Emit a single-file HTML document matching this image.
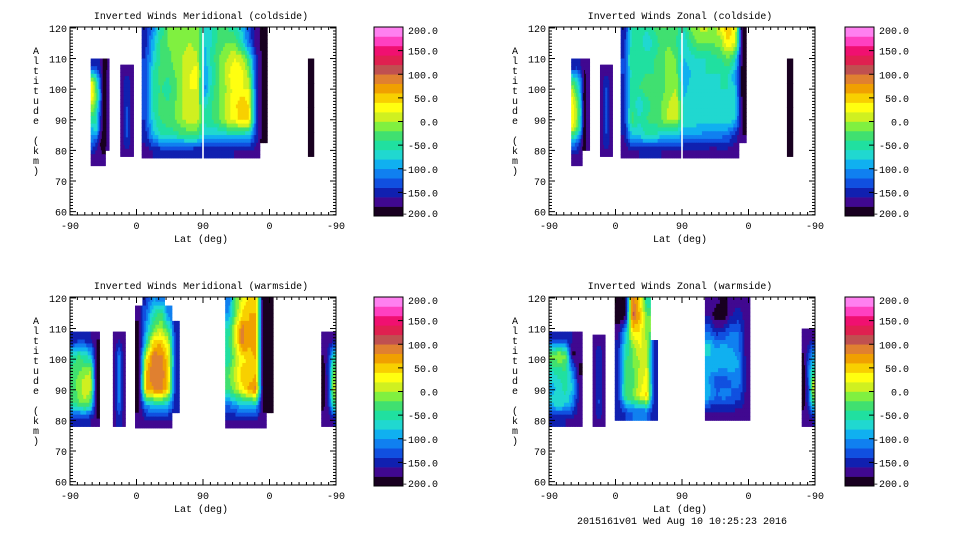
<!DOCTYPE html>
<html><head><meta charset="utf-8"><style>
html,body{margin:0;padding:0;background:#fff;}
svg{display:block;}
text{font-family:"Liberation Mono","DejaVu Sans Mono",monospace;font-size:10px;fill:#000;}
</style></head><body>
<svg id="chart" width="960" height="540" xmlns="http://www.w3.org/2000/svg">
<rect width="960" height="540" fill="#fff"/>
</svg>
<script>
const xTickLabels = ["-90","0","90","0","-90"];
const xTickUnits = [0,90,180,270,360];
const yTickLabels = [60,70,80,90,100,110,120];
const cbarLabels = [200,150,100,50,0,-50,-100,-150,-200];
const panelTitles = ["Inverted Winds Meridional (coldside)","Inverted Winds Zonal (coldside)","Inverted Winds Meridional (warmside)","Inverted Winds Zonal (warmside)"];
const bandColors = ["#180020","#400890","#1020b0","#1050e0","#1080f0","#10b0f0","#20d8d0","#20e0a0","#40e070","#80f040","#d0f020","#ffff10","#f8d000","#f0a000","#e08030","#c05050","#e02050","#f01070","#ff40c0","#ff80f0"];

// panel 1: meridional coldside
const p1Blocks = [
 {x0:28,x1:53,a0:75,a1:110,v:[
  [-160,-150,-160,-190,-180],[20,-40,-120,-200,-170],[30,-20,-100,-200,-170],[-20,-60,-130,-200,-170],[-80,-60,-140,-200,-170],[-120,-140,-180,-200,-170],[-170,-180,-170,-175,null]]},
 {x0:68,x1:86,a0:78,a1:108,v:[[-165,-165,-165],[-165,-140,-165],[-165,-140,-165],[-165,-125,-165],[-165,-130,-165],[-165,-160,-165]]},
 {x0:322,x1:330,a0:78,a1:110,v:[[-195]]},
 {x0:97,x1:267,a0:77.5,a1:122.5,v:[
  [-160,-110,-60,-20,-20,-10,-10,-10,-70,-60,-30,-40,-50,-80,-130,-170,-190],
  [-150,-90,-40,-20,-10,-10,0,-10,-80,-60,-30,-20,-20,-60,-120,-170,-190],
  [-140,-80,-40,-30,-10,0,10,10,-90,-50,-20,0,20,10,-40,-150,-195],
  [-140,-60,-30,-40,-20,0,20,30,-100,-60,-20,10,40,30,-10,-150,-195],
  [-140,-50,-40,-50,-30,0,20,20,-110,-50,-20,0,30,20,20,-140,-195],
  [-140,-60,-30,-40,-20,0,10,10,-70,-40,-20,10,30,60,40,-140,-195],
  [-140,-70,-40,-30,-20,0,10,10,-50,-40,-20,10,30,50,50,-140,-195],
  [-150,-90,-60,-50,-50,-40,-30,-30,-80,-80,-80,-70,-70,-70,-80,-150,-195],
  [-170,-160,-150,-150,-150,-150,-150,-160,-160,-160,-150,-150,-160,-165,-165,-165,null]]}
];
// panel 2: zonal coldside
const p2Blocks = [
 {x0:30,x1:55,a0:75,a1:110,v:[
  [-160,-150,-160,-180,-170],[-30,-60,-100,-190,-170],[20,-20,-80,-195,-170],[30,0,-60,-195,-170],[20,-10,-70,-195,-170],[-100,-120,-150,-195,-170],[-170,-175,-175,null,null]]},
 {x0:69,x1:86,a0:78,a1:108,v:[[-165,-165,-165],[-165,-135,-165],[-165,-135,-165],[-165,-130,-165],[-165,-135,-165],[-165,-160,-165]]},
 {x0:322,x1:330,a0:78,a1:110,v:[[-195]]},
 {x0:97,x1:267,a0:77.5,a1:122.5,v:[
  [-160,-60,-40,-60,-40,-20,-20,-30,-60,-20,0,10,-10,20,60,30,-195],
  [-150,-50,-40,-80,-60,-30,-20,-40,-80,-40,-20,-20,-20,-10,40,20,-195],
  [-140,-40,-40,-50,-40,-30,-10,-20,-80,-70,-60,-60,-50,-40,-20,-60,-195],
  [-140,-50,-50,-40,-40,-30,-10,-10,-100,-80,-70,-60,-60,-60,-60,-100,-195],
  [-150,-40,-40,-30,-40,-30,-10,0,-90,-70,-60,-70,-70,-60,-60,-80,-195],
  [-150,-40,-80,-50,-30,-20,0,20,-70,-60,-70,-70,-70,-70,-60,-70,-195],
  [-150,-30,-60,-40,-30,-20,10,10,-60,-60,-70,-70,-70,-70,-60,-80,-190],
  [-160,-80,-70,-60,-60,-70,-70,-80,-100,-100,-100,-110,-110,-110,-120,-150,-180],
  [-170,-165,-160,-160,-160,-160,-165,-165,-165,-165,-165,-165,-170,-165,-165,-170,null]]}
];
// panel 3: meridional warmside
const p3Blocks = [
 {x0:0,x1:40,a0:78,a1:109,v:[
  [-160,-150,-150,-160,-180],[-60,-40,-60,-80,-190],[-30,-20,-10,0,-195],[-30,-10,20,10,-195],[-40,-20,0,-30,-195],[-150,-150,-150,-160,-180]]},
 {x0:58,x1:75,a0:78,a1:109,v:[[-165,-165,-165],[-165,-110,-165],[-165,-110,-165],[-165,-110,-165],[-165,-110,-165],[-165,-150,-165]]},
 {x0:88,x1:148,a0:77.5,a1:122.5,v:[
  [null,-150,-100,-120,null,null],[-170,-120,-60,-30,-120,null],[-190,-100,-20,0,-40,-160],[-195,-60,50,60,20,-150],
  [-195,30,100,90,40,-150],[-195,60,100,100,50,-160],[-195,60,80,90,40,-160],[-190,-100,-80,-70,-90,-160],[-170,-165,-165,-165,-165,null]]},
 {x0:210,x1:275,a0:77.5,a1:122.5,v:[
  [-120,-20,20,40,60,-195,-195],[-100,-20,40,60,60,-195,-195],[-60,20,90,60,70,-195,-195],[-40,10,90,60,70,-195,-195],
  [-60,0,30,50,60,-195,-195],[-20,10,60,40,60,-195,-195],[-40,0,30,70,90,-195,-195],[-120,-100,-80,-80,-80,-195,-190],[-165,-165,-165,-165,-165,-170,null]]},
 {x0:340,x1:360,a0:78,a1:109,v:[[-170,-170,-170],[-180,-150,-60],[-190,-140,-20],[-195,-150,10],[-190,-150,-30],[-170,-170,-160]]}
];
// panel 4: zonal warmside
const p4Blocks = [
 {x0:0,x1:45,a0:78,a1:109,v:[
  [-150,-150,-150,-160,-170],[-10,0,-10,-190,-170],[-60,-50,-40,-100,-190],[-90,-70,-50,-80,-160],[-70,-60,-70,-100,-170],[-160,-160,-160,-165,-170]]},
 {x0:59,x1:76,a0:78,a1:108,v:[[-165,-165,-165],[-165,-140,-165],[-165,-140,-165],[-165,-140,-165],[-165,-135,-165],[-165,-160,-165]]},
 {x0:89,x1:147,a0:80,a1:122,v:[
  [-195,-195,100,40,-60,null],[-195,-190,110,60,-20,null],[-170,-90,40,40,-20,null],[-150,-60,-20,20,20,-150],
  [-150,-40,-20,0,20,-150],[-150,-40,-30,10,30,-150],[-150,-30,-20,20,50,-150],[-160,-140,-120,-120,-120,-160]]},
 {x0:211,x1:272,a0:80,a1:122,v:[
  [-175,-170,-190,-170,-170,-175],[-160,-195,-195,-160,-150,-170],[-120,-150,-140,-120,-120,-170],[-70,-100,-90,-100,-120,-170],
  [-90,-80,-90,-80,-100,-165],[-100,-130,-130,-120,-110,-165],[-90,-120,-110,-120,-130,-165],[-165,-165,-165,-165,-165,-170]]},
 {x0:342,x1:360,a0:78,a1:110,v:[[-170,-170,-170],[-180,-150,-100],[-190,-120,-60],[-195,-140,20],[-190,-140,-40],[-170,-170,-160]]}
];
const panelBlocks = [p1Blocks,p2Blocks,p3Blocks,p4Blocks];
const panelGaps = [true,true,false,false];

const NS="http://www.w3.org/2000/svg";
const svg=document.getElementById('chart');
function mk(tag,attrs,parent){const e=document.createElementNS(NS,tag);for(const k in attrs)e.setAttribute(k,attrs[k]);(parent||svg).appendChild(e);return e;}
function colorOf(v){let i=Math.floor((v+200)/20);if(i<0)i=0;if(i>19)i=19;return bandColors[i];}
// smooth rendering of a block value at continuous grid position (gx,gy)
function sample(b,r,c,gx,gy){
  const nr=b.v.length,nc=b.v[0].length,own=b.v[r][c];
  const get=(rr,cc)=>{rr=Math.max(0,Math.min(nr-1,rr));cc=Math.max(0,Math.min(nc-1,cc));const v=b.v[rr][cc];return v===null?own:v;};
  const c0=Math.floor(gx-0.5),r0=Math.floor(gy-0.5);
  const tx=gx-0.5-c0,ty=gy-0.5-r0;
  const v00=get(r0,c0),v01=get(r0,c0+1),v10=get(r0+1,c0),v11=get(r0+1,c0+1);
  return (v00*(1-tx)+v01*tx)*(1-ty)+(v10*(1-tx)+v11*tx)*ty;
}

const layout=[{L:70,T:27,cb:374},{L:549,T:27,cb:845},{L:70,T:297,cb:374},{L:549,T:297,cb:845}];
const W=266,H=188,AMIN=58.9,AMAX=120.3,SUB=4;

layout.forEach((P,pi)=>{
  const xs=u=>P.L+u/360*W;
  const ys=a=>P.T+H-(a-AMIN)/(AMAX-AMIN)*H;
  const g=mk('g',{});
  
  
  const cid='clip'+pi;
  const cp=mk('clipPath',{id:cid},g);mk('rect',{x:P.L,y:P.T,width:W,height:H},cp);
  const cells=mk('g',{'clip-path':'url(#'+cid+')'},g);
  
  
  panelBlocks[pi].forEach(b=>{
    const nr=b.v.length,nc=b.v[0].length;
    const cw=(b.x1-b.x0)/nc,rh=(b.a1-b.a0)/nr;
    for(let r=0;r<nr;r++)for(let c=0;c<nc;c++){
      const v=b.v[r][c];if(v===null)continue;
      const cell=mk('g',{},cells);
      
      
      for(let sr=0;sr<SUB;sr++)for(let sc=0;sc<SUB;sc++){
        const gx=c+(sc+0.5)/SUB,gy=r+(sr+0.5)/SUB;
        const sv=sample(b,r,c,gx,gy);
        const x0=xs(b.x0+(c+sc/SUB)*cw),x1=xs(b.x0+(c+(sc+1)/SUB)*cw);
        const y0=ys(b.a1-(r+sr/SUB)*rh),y1=ys(b.a1-(r+(sr+1)/SUB)*rh);
        mk('rect',{x:x0.toFixed(2),y:y0.toFixed(2),width:(x1-x0+0.4).toFixed(2),height:(y1-y0+0.4).toFixed(2),fill:colorOf(sv)},cell);
      }
    }
  });
  if(panelGaps[pi]) mk('rect',{x:xs(180)-0.8,y:P.T,width:1.6,height:H,fill:'#fff'},cells);
  const fr=mk('rect',{x:P.L,y:P.T,width:W,height:H,fill:'none',stroke:'#000','stroke-width':1},g);
  
  
  for(let a=59;a<=120;a++){
    const y=ys(a),len=(a%10===0)?6:3;
    mk('line',{x1:P.L,x2:P.L+len,y1:y,y2:y,stroke:'#000','stroke-width':1},g);
    mk('line',{x1:P.L+W,x2:P.L+W-len,y1:y,y2:y,stroke:'#000','stroke-width':1},g);
  }
  yTickLabels.forEach(a=>{
    const t=mk('text',{x:P.L-3,y:ys(a)+4,'text-anchor':'end'},g);t.textContent=a;
    
    
  });
  for(let u=10;u<360;u+=10){
    const x=xs(u),len=(u%90===0)?6:3;
    mk('line',{x1:x,x2:x,y1:P.T+H,y2:P.T+H-len,stroke:'#000','stroke-width':1},g);
    mk('line',{x1:x,x2:x,y1:P.T,y2:P.T+len,stroke:'#000','stroke-width':1},g);
  }
  xTickLabels.forEach((l,i)=>{
    const t=mk('text',{x:xs(xTickUnits[i]),y:P.T+H+14,'text-anchor':'middle'},g);t.textContent=l;
    
    
  });
  const xt=mk('text',{x:P.L+W/2-2,y:P.T+H+27,'text-anchor':'middle'},g);xt.textContent='Lat (deg)';
  
  
  const title=panelTitles[pi];
  const tt=mk('text',{x:P.L+W/2-2,y:P.T-8,'text-anchor':'middle',textLength:title.length*5.95,lengthAdjust:'spacingAndGlyphs'},g);tt.textContent=title;
  
  
  const yt=mk('text',{x:P.L-34,y:P.T+22,'text-anchor':'middle'},g);
  
  
  'Altitude (km)'.split('').forEach((ch,i)=>{const s=mk('tspan',{x:P.L-34,y:P.T+27+i*10},yt);s.textContent=ch;});
  const cb=mk('g',{},g);
  
  
  const cbT=P.T,cbH=189,cbW=29,bh=cbH/20;
  bandColors.forEach((c,i)=>{
    const r=mk('rect',{x:P.cb,y:cbT+cbH-(i+1)*bh,width:cbW,height:bh+0.3,fill:c},cb);
    
    
  });
  mk('rect',{x:P.cb,y:cbT,width:cbW,height:cbH,fill:'none',stroke:'#000'},cb);
  cbarLabels.forEach(v=>{
    const y=cbT+cbH-(v+200)/400*cbH;
    mk('line',{x1:P.cb+cbW,x2:P.cb+cbW-5,y1:y,y2:y,stroke:'#000'},cb);
    const yl=Math.min(Math.max(y,cbT+3),cbT+cbH-3);
    const t=mk('text',{x:P.cb+64,y:yl+4,'text-anchor':'end'},cb);t.textContent=v.toFixed(1);
    
    
  });
});
const ts=mk('text',{x:682,y:524,'text-anchor':'middle',textLength:210,lengthAdjust:'spacingAndGlyphs'});
ts.textContent='2015161v01 Wed Aug 10 10:25:23 2016';


</script>
</body></html>
